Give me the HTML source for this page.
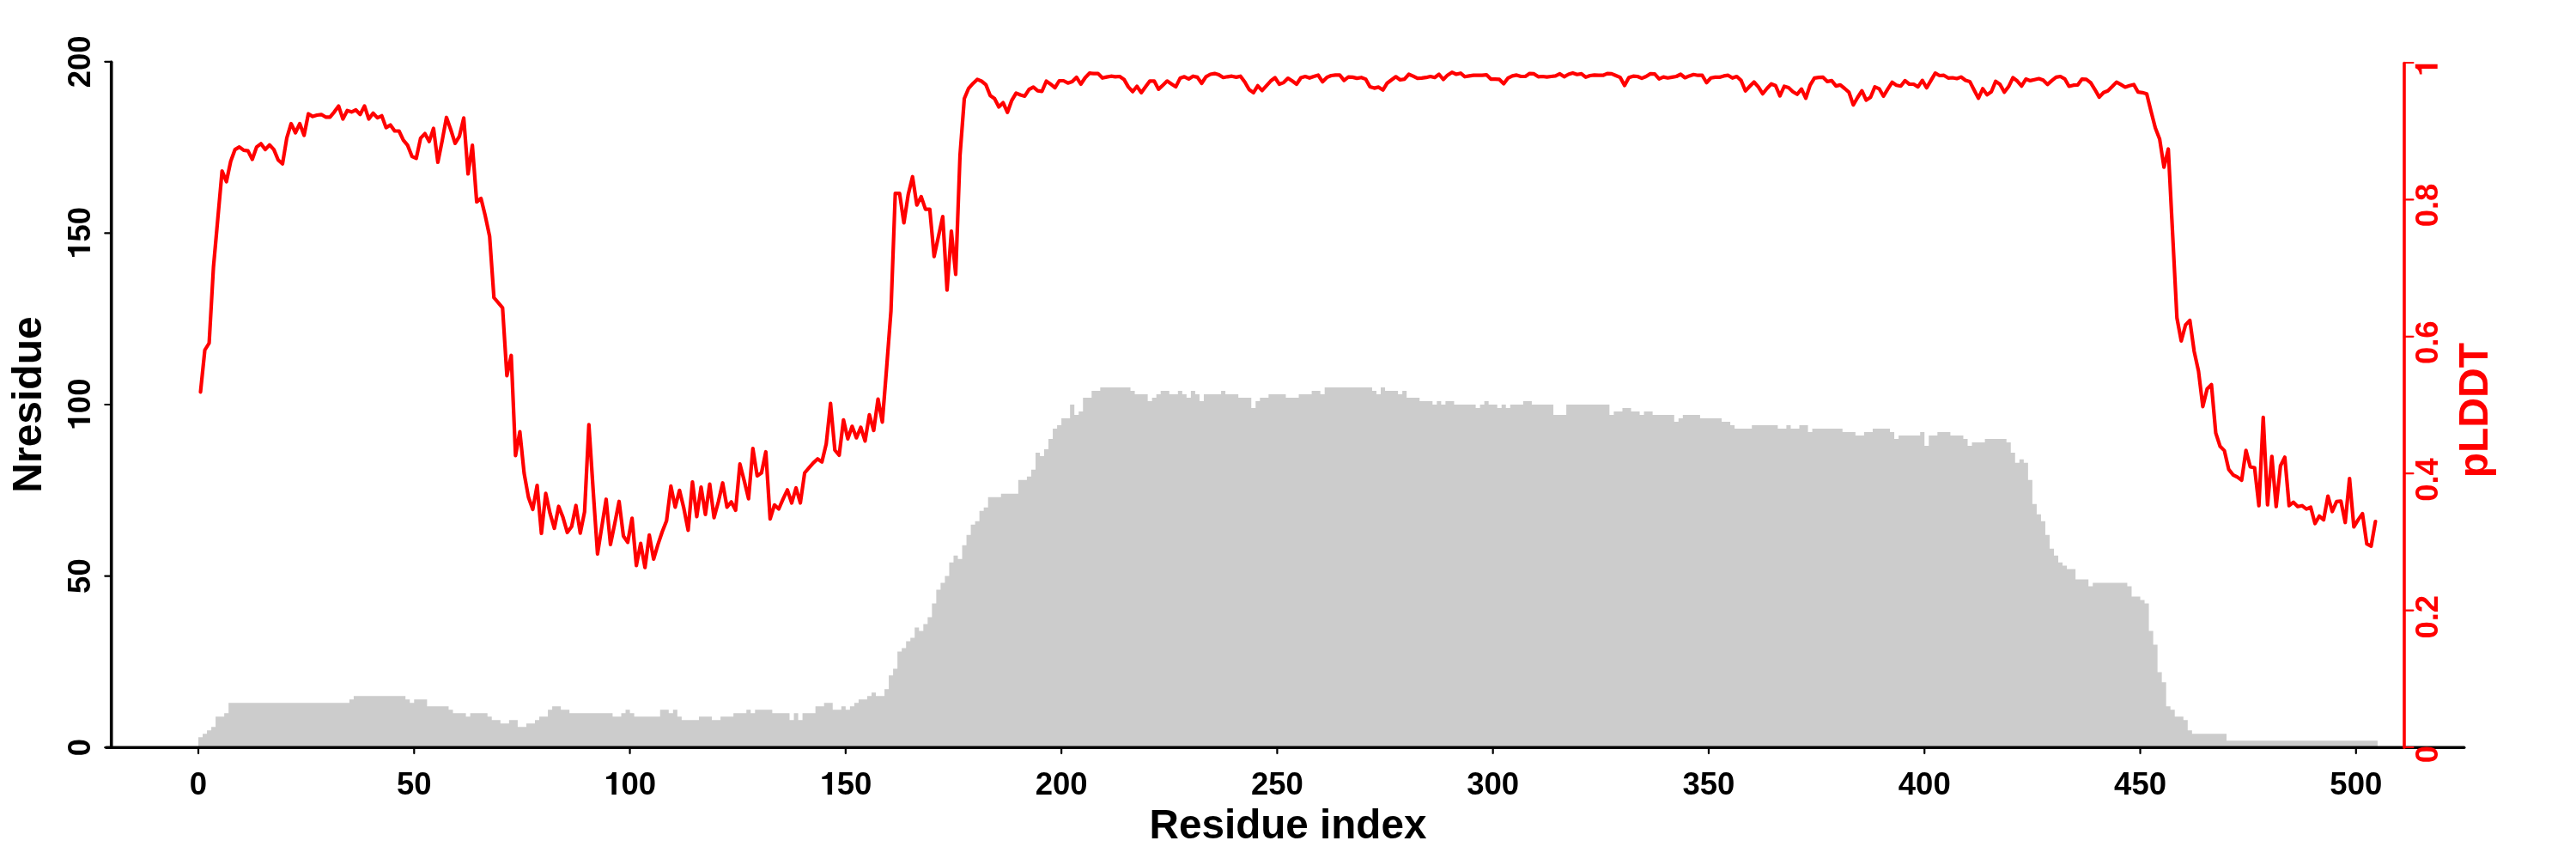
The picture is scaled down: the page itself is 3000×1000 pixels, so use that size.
<!DOCTYPE html>
<html><head><meta charset="utf-8"><style>
html,body{margin:0;padding:0;background:#fff;width:3000px;height:1000px;overflow:hidden}
svg{display:block;will-change:transform}
.t{font-family:"Liberation Sans",sans-serif;font-weight:bold;font-size:36.5px;text-anchor:middle;fill:#000}
.h{font-family:"Liberation Sans",sans-serif;font-weight:bold;font-size:48px;text-anchor:middle;fill:#000}
.r{fill:#ff0000}
</style></head><body>
<svg width="3000" height="1000" viewBox="0 0 3000 1000">
<rect width="3000" height="1000" fill="#fff"/>
<path d="M231 870.2 L231 858.22 L236.03 858.22 L236.03 854.23 L241.05 854.23 L241.05 850.24 L246.08 850.24 L246.08 846.25 L251.1 846.25 L251.1 834.27 L256.13 834.27 L256.13 834.27 L261.15 834.27 L261.15 830.28 L266.18 830.28 L266.18 818.3 L271.2 818.3 L271.2 818.3 L276.23 818.3 L276.23 818.3 L281.26 818.3 L281.26 818.3 L286.28 818.3 L286.28 818.3 L291.31 818.3 L291.31 818.3 L296.33 818.3 L296.33 818.3 L301.36 818.3 L301.36 818.3 L306.38 818.3 L306.38 818.3 L311.41 818.3 L311.41 818.3 L316.44 818.3 L316.44 818.3 L321.46 818.3 L321.46 818.3 L326.49 818.3 L326.49 818.3 L331.51 818.3 L331.51 818.3 L336.54 818.3 L336.54 818.3 L341.56 818.3 L341.56 818.3 L346.59 818.3 L346.59 818.3 L351.61 818.3 L351.61 818.3 L356.64 818.3 L356.64 818.3 L361.67 818.3 L361.67 818.3 L366.69 818.3 L366.69 818.3 L371.72 818.3 L371.72 818.3 L376.74 818.3 L376.74 818.3 L381.77 818.3 L381.77 818.3 L386.79 818.3 L386.79 818.3 L391.82 818.3 L391.82 818.3 L396.84 818.3 L396.84 818.3 L401.87 818.3 L401.87 818.3 L406.9 818.3 L406.9 814.31 L411.92 814.31 L411.92 810.32 L416.95 810.32 L416.95 810.32 L421.97 810.32 L421.97 810.32 L427 810.32 L427 810.32 L432.02 810.32 L432.02 810.32 L437.05 810.32 L437.05 810.32 L442.08 810.32 L442.08 810.32 L447.1 810.32 L447.1 810.32 L452.13 810.32 L452.13 810.32 L457.15 810.32 L457.15 810.32 L462.18 810.32 L462.18 810.32 L467.2 810.32 L467.2 810.32 L472.23 810.32 L472.23 814.31 L477.25 814.31 L477.25 818.3 L482.28 818.3 L482.28 814.31 L487.31 814.31 L487.31 814.31 L492.33 814.31 L492.33 814.31 L497.36 814.31 L497.36 822.3 L502.38 822.3 L502.38 822.3 L507.41 822.3 L507.41 822.3 L512.43 822.3 L512.43 822.3 L517.46 822.3 L517.46 822.3 L522.48 822.3 L522.48 826.29 L527.51 826.29 L527.51 830.28 L532.54 830.28 L532.54 830.28 L537.56 830.28 L537.56 830.28 L542.59 830.28 L542.59 834.27 L547.61 834.27 L547.61 830.28 L552.64 830.28 L552.64 830.28 L557.66 830.28 L557.66 830.28 L562.69 830.28 L562.69 830.28 L567.72 830.28 L567.72 834.27 L572.74 834.27 L572.74 838.26 L577.77 838.26 L577.77 838.26 L582.79 838.26 L582.79 842.26 L587.82 842.26 L587.82 842.26 L592.84 842.26 L592.84 838.26 L597.87 838.26 L597.87 838.26 L602.89 838.26 L602.89 846.25 L607.92 846.25 L607.92 846.25 L612.95 846.25 L612.95 842.26 L617.97 842.26 L617.97 842.26 L623 842.26 L623 838.26 L628.02 838.26 L628.02 834.27 L633.05 834.27 L633.05 834.27 L638.07 834.27 L638.07 826.29 L643.1 826.29 L643.1 822.3 L648.12 822.3 L648.12 822.3 L653.15 822.3 L653.15 826.29 L658.18 826.29 L658.18 826.29 L663.2 826.29 L663.2 830.28 L668.23 830.28 L668.23 830.28 L673.25 830.28 L673.25 830.28 L678.28 830.28 L678.28 830.28 L683.3 830.28 L683.3 830.28 L688.33 830.28 L688.33 830.28 L693.36 830.28 L693.36 830.28 L698.38 830.28 L698.38 830.28 L703.41 830.28 L703.41 830.28 L708.43 830.28 L708.43 830.28 L713.46 830.28 L713.46 834.27 L718.48 834.27 L718.48 834.27 L723.51 834.27 L723.51 830.28 L728.53 830.28 L728.53 826.29 L733.56 826.29 L733.56 830.28 L738.59 830.28 L738.59 834.27 L743.61 834.27 L743.61 834.27 L748.64 834.27 L748.64 834.27 L753.66 834.27 L753.66 834.27 L758.69 834.27 L758.69 834.27 L763.71 834.27 L763.71 834.27 L768.74 834.27 L768.74 826.29 L773.76 826.29 L773.76 826.29 L778.79 826.29 L778.79 830.28 L783.82 830.28 L783.82 826.29 L788.84 826.29 L788.84 834.27 L793.87 834.27 L793.87 838.26 L798.89 838.26 L798.89 838.26 L803.92 838.26 L803.92 838.26 L808.94 838.26 L808.94 838.26 L813.97 838.26 L813.97 834.27 L819 834.27 L819 834.27 L824.02 834.27 L824.02 834.27 L829.05 834.27 L829.05 838.26 L834.07 838.26 L834.07 838.26 L839.1 838.26 L839.1 834.27 L844.12 834.27 L844.12 834.27 L849.15 834.27 L849.15 834.27 L854.17 834.27 L854.17 830.28 L859.2 830.28 L859.2 830.28 L864.23 830.28 L864.23 830.28 L869.25 830.28 L869.25 826.29 L874.28 826.29 L874.28 830.28 L879.3 830.28 L879.3 826.29 L884.33 826.29 L884.33 826.29 L889.35 826.29 L889.35 826.29 L894.38 826.29 L894.38 826.29 L899.4 826.29 L899.4 830.28 L904.43 830.28 L904.43 830.28 L909.46 830.28 L909.46 830.28 L914.48 830.28 L914.48 830.28 L919.51 830.28 L919.51 838.26 L924.53 838.26 L924.53 830.28 L929.56 830.28 L929.56 838.26 L934.58 838.26 L934.58 830.28 L939.61 830.28 L939.61 830.28 L944.64 830.28 L944.64 830.28 L949.66 830.28 L949.66 822.3 L954.69 822.3 L954.69 822.3 L959.71 822.3 L959.71 818.3 L964.74 818.3 L964.74 818.3 L969.76 818.3 L969.76 826.29 L974.79 826.29 L974.79 826.29 L979.81 826.29 L979.81 822.3 L984.84 822.3 L984.84 826.29 L989.87 826.29 L989.87 822.3 L994.89 822.3 L994.89 818.3 L999.92 818.3 L999.92 814.31 L1004.94 814.31 L1004.94 814.31 L1009.97 814.31 L1009.97 810.32 L1014.99 810.32 L1014.99 806.33 L1020.02 806.33 L1020.02 810.32 L1025.04 810.32 L1025.04 810.32 L1030.07 810.32 L1030.07 802.34 L1035.1 802.34 L1035.1 786.37 L1040.12 786.37 L1040.12 778.38 L1045.15 778.38 L1045.15 758.42 L1050.17 758.42 L1050.17 754.43 L1055.2 754.43 L1055.2 746.45 L1060.22 746.45 L1060.22 742.46 L1065.25 742.46 L1065.25 730.48 L1070.28 730.48 L1070.28 734.47 L1075.3 734.47 L1075.3 726.49 L1080.33 726.49 L1080.33 718.5 L1085.35 718.5 L1085.35 702.54 L1090.38 702.54 L1090.38 686.57 L1095.4 686.57 L1095.4 678.58 L1100.43 678.58 L1100.43 670.6 L1105.45 670.6 L1105.45 654.63 L1110.48 654.63 L1110.48 646.65 L1115.51 646.65 L1115.51 650.64 L1120.53 650.64 L1120.53 634.67 L1125.56 634.67 L1125.56 622.7 L1130.58 622.7 L1130.58 610.72 L1135.61 610.72 L1135.61 606.73 L1140.63 606.73 L1140.63 594.75 L1145.66 594.75 L1145.66 590.76 L1150.68 590.76 L1150.68 578.78 L1155.71 578.78 L1155.71 578.78 L1160.74 578.78 L1160.74 578.78 L1165.76 578.78 L1165.76 574.79 L1170.79 574.79 L1170.79 574.79 L1175.81 574.79 L1175.81 574.79 L1180.84 574.79 L1180.84 574.79 L1185.86 574.79 L1185.86 558.82 L1190.89 558.82 L1190.89 558.82 L1195.92 558.82 L1195.92 554.83 L1200.94 554.83 L1200.94 546.85 L1205.97 546.85 L1205.97 526.89 L1210.99 526.89 L1210.99 530.88 L1216.02 530.88 L1216.02 522.9 L1221.04 522.9 L1221.04 510.92 L1226.07 510.92 L1226.07 498.94 L1231.09 498.94 L1231.09 494.95 L1236.12 494.95 L1236.12 486.97 L1241.15 486.97 L1241.15 486.97 L1246.17 486.97 L1246.17 471 L1251.2 471 L1251.2 482.98 L1256.22 482.98 L1256.22 478.98 L1261.25 478.98 L1261.25 463.02 L1266.27 463.02 L1266.27 463.02 L1271.3 463.02 L1271.3 455.03 L1276.32 455.03 L1276.32 455.03 L1281.35 455.03 L1281.35 451.04 L1286.38 451.04 L1286.38 451.04 L1291.4 451.04 L1291.4 451.04 L1296.43 451.04 L1296.43 451.04 L1301.45 451.04 L1301.45 451.04 L1306.48 451.04 L1306.48 451.04 L1311.5 451.04 L1311.5 451.04 L1316.53 451.04 L1316.53 455.03 L1321.56 455.03 L1321.56 459.02 L1326.58 459.02 L1326.58 459.02 L1331.61 459.02 L1331.61 459.02 L1336.63 459.02 L1336.63 467.01 L1341.66 467.01 L1341.66 463.02 L1346.68 463.02 L1346.68 459.02 L1351.71 459.02 L1351.71 455.03 L1356.73 455.03 L1356.73 455.03 L1361.76 455.03 L1361.76 459.02 L1366.79 459.02 L1366.79 459.02 L1371.81 459.02 L1371.81 455.03 L1376.84 455.03 L1376.84 459.02 L1381.86 459.02 L1381.86 463.02 L1386.89 463.02 L1386.89 455.03 L1391.91 455.03 L1391.91 459.02 L1396.94 459.02 L1396.94 467.01 L1401.96 467.01 L1401.96 459.02 L1406.99 459.02 L1406.99 459.02 L1412.02 459.02 L1412.02 459.02 L1417.04 459.02 L1417.04 459.02 L1422.07 459.02 L1422.07 455.03 L1427.09 455.03 L1427.09 459.02 L1432.12 459.02 L1432.12 459.02 L1437.14 459.02 L1437.14 459.02 L1442.17 459.02 L1442.17 463.02 L1447.2 463.02 L1447.2 463.02 L1452.22 463.02 L1452.22 463.02 L1457.25 463.02 L1457.25 474.99 L1462.27 474.99 L1462.27 467.01 L1467.3 467.01 L1467.3 463.02 L1472.32 463.02 L1472.32 463.02 L1477.35 463.02 L1477.35 459.02 L1482.37 459.02 L1482.37 459.02 L1487.4 459.02 L1487.4 459.02 L1492.43 459.02 L1492.43 459.02 L1497.45 459.02 L1497.45 463.02 L1502.48 463.02 L1502.48 463.02 L1507.5 463.02 L1507.5 463.02 L1512.53 463.02 L1512.53 459.02 L1517.55 459.02 L1517.55 459.02 L1522.58 459.02 L1522.58 459.02 L1527.6 459.02 L1527.6 455.03 L1532.63 455.03 L1532.63 455.03 L1537.66 455.03 L1537.66 459.02 L1542.68 459.02 L1542.68 451.04 L1547.71 451.04 L1547.71 451.04 L1552.73 451.04 L1552.73 451.04 L1557.76 451.04 L1557.76 451.04 L1562.78 451.04 L1562.78 451.04 L1567.81 451.04 L1567.81 451.04 L1572.84 451.04 L1572.84 451.04 L1577.86 451.04 L1577.86 451.04 L1582.89 451.04 L1582.89 451.04 L1587.91 451.04 L1587.91 451.04 L1592.94 451.04 L1592.94 451.04 L1597.96 451.04 L1597.96 455.03 L1602.99 455.03 L1602.99 459.02 L1608.01 459.02 L1608.01 451.04 L1613.04 451.04 L1613.04 455.03 L1618.07 455.03 L1618.07 455.03 L1623.09 455.03 L1623.09 455.03 L1628.12 455.03 L1628.12 459.02 L1633.14 459.02 L1633.14 455.03 L1638.17 455.03 L1638.17 463.02 L1643.19 463.02 L1643.19 463.02 L1648.22 463.02 L1648.22 463.02 L1653.24 463.02 L1653.24 467.01 L1658.27 467.01 L1658.27 467.01 L1663.3 467.01 L1663.3 467.01 L1668.32 467.01 L1668.32 471 L1673.35 471 L1673.35 467.01 L1678.37 467.01 L1678.37 471 L1683.4 471 L1683.4 467.01 L1688.42 467.01 L1688.42 467.01 L1693.45 467.01 L1693.45 471 L1698.48 471 L1698.48 471 L1703.5 471 L1703.5 471 L1708.53 471 L1708.53 471 L1713.55 471 L1713.55 471 L1718.58 471 L1718.58 474.99 L1723.6 474.99 L1723.6 471 L1728.63 471 L1728.63 467.01 L1733.65 467.01 L1733.65 471 L1738.68 471 L1738.68 471 L1743.71 471 L1743.71 474.99 L1748.73 474.99 L1748.73 471 L1753.76 471 L1753.76 474.99 L1758.78 474.99 L1758.78 471 L1763.81 471 L1763.81 471 L1768.83 471 L1768.83 471 L1773.86 471 L1773.86 467.01 L1778.88 467.01 L1778.88 467.01 L1783.91 467.01 L1783.91 471 L1788.94 471 L1788.94 471 L1793.96 471 L1793.96 471 L1798.99 471 L1798.99 471 L1804.01 471 L1804.01 471 L1809.04 471 L1809.04 482.98 L1814.06 482.98 L1814.06 482.98 L1819.09 482.98 L1819.09 482.98 L1824.12 482.98 L1824.12 471 L1829.14 471 L1829.14 471 L1834.17 471 L1834.17 471 L1839.19 471 L1839.19 471 L1844.22 471 L1844.22 471 L1849.24 471 L1849.24 471 L1854.27 471 L1854.27 471 L1859.29 471 L1859.29 471 L1864.32 471 L1864.32 471 L1869.35 471 L1869.35 471 L1874.37 471 L1874.37 482.98 L1879.4 482.98 L1879.4 478.98 L1884.42 478.98 L1884.42 478.98 L1889.45 478.98 L1889.45 474.99 L1894.47 474.99 L1894.47 474.99 L1899.5 474.99 L1899.5 478.98 L1904.52 478.98 L1904.52 478.98 L1909.55 478.98 L1909.55 482.98 L1914.58 482.98 L1914.58 478.98 L1919.6 478.98 L1919.6 478.98 L1924.63 478.98 L1924.63 482.98 L1929.65 482.98 L1929.65 482.98 L1934.68 482.98 L1934.68 482.98 L1939.7 482.98 L1939.7 482.98 L1944.73 482.98 L1944.73 482.98 L1949.76 482.98 L1949.76 490.96 L1954.78 490.96 L1954.78 486.97 L1959.81 486.97 L1959.81 482.98 L1964.83 482.98 L1964.83 482.98 L1969.86 482.98 L1969.86 482.98 L1974.88 482.98 L1974.88 482.98 L1979.91 482.98 L1979.91 486.97 L1984.93 486.97 L1984.93 486.97 L1989.96 486.97 L1989.96 486.97 L1994.99 486.97 L1994.99 486.97 L2000.01 486.97 L2000.01 486.97 L2005.04 486.97 L2005.04 490.96 L2010.06 490.96 L2010.06 490.96 L2015.09 490.96 L2015.09 494.95 L2020.11 494.95 L2020.11 498.94 L2025.14 498.94 L2025.14 498.94 L2030.16 498.94 L2030.16 498.94 L2035.19 498.94 L2035.19 498.94 L2040.22 498.94 L2040.22 494.95 L2045.24 494.95 L2045.24 494.95 L2050.27 494.95 L2050.27 494.95 L2055.29 494.95 L2055.29 494.95 L2060.32 494.95 L2060.32 494.95 L2065.34 494.95 L2065.34 494.95 L2070.37 494.95 L2070.37 498.94 L2075.4 498.94 L2075.4 498.94 L2080.42 498.94 L2080.42 494.95 L2085.45 494.95 L2085.45 498.94 L2090.47 498.94 L2090.47 498.94 L2095.5 498.94 L2095.5 494.95 L2100.52 494.95 L2100.52 494.95 L2105.55 494.95 L2105.55 502.94 L2110.57 502.94 L2110.57 498.94 L2115.6 498.94 L2115.6 498.94 L2120.63 498.94 L2120.63 498.94 L2125.65 498.94 L2125.65 498.94 L2130.68 498.94 L2130.68 498.94 L2135.7 498.94 L2135.7 498.94 L2140.73 498.94 L2140.73 498.94 L2145.75 498.94 L2145.75 502.94 L2150.78 502.94 L2150.78 502.94 L2155.8 502.94 L2155.8 502.94 L2160.83 502.94 L2160.83 506.93 L2165.86 506.93 L2165.86 506.93 L2170.88 506.93 L2170.88 502.94 L2175.91 502.94 L2175.91 502.94 L2180.93 502.94 L2180.93 498.94 L2185.96 498.94 L2185.96 498.94 L2190.98 498.94 L2190.98 498.94 L2196.01 498.94 L2196.01 498.94 L2201.04 498.94 L2201.04 502.94 L2206.06 502.94 L2206.06 510.92 L2211.09 510.92 L2211.09 506.93 L2216.11 506.93 L2216.11 506.93 L2221.14 506.93 L2221.14 506.93 L2226.16 506.93 L2226.16 506.93 L2231.19 506.93 L2231.19 506.93 L2236.21 506.93 L2236.21 502.94 L2241.24 502.94 L2241.24 518.9 L2246.27 518.9 L2246.27 506.93 L2251.29 506.93 L2251.29 506.93 L2256.32 506.93 L2256.32 502.94 L2261.34 502.94 L2261.34 502.94 L2266.37 502.94 L2266.37 502.94 L2271.39 502.94 L2271.39 506.93 L2276.42 506.93 L2276.42 506.93 L2281.44 506.93 L2281.44 506.93 L2286.47 506.93 L2286.47 510.92 L2291.5 510.92 L2291.5 518.9 L2296.52 518.9 L2296.52 514.91 L2301.55 514.91 L2301.55 514.91 L2306.57 514.91 L2306.57 514.91 L2311.6 514.91 L2311.6 510.92 L2316.62 510.92 L2316.62 510.92 L2321.65 510.92 L2321.65 510.92 L2326.68 510.92 L2326.68 510.92 L2331.7 510.92 L2331.7 510.92 L2336.73 510.92 L2336.73 514.91 L2341.75 514.91 L2341.75 526.89 L2346.78 526.89 L2346.78 538.86 L2351.8 538.86 L2351.8 534.87 L2356.83 534.87 L2356.83 538.86 L2361.85 538.86 L2361.85 558.82 L2366.88 558.82 L2366.88 586.77 L2371.91 586.77 L2371.91 598.74 L2376.93 598.74 L2376.93 606.73 L2381.96 606.73 L2381.96 622.7 L2386.98 622.7 L2386.98 638.66 L2392.01 638.66 L2392.01 646.65 L2397.03 646.65 L2397.03 654.63 L2402.06 654.63 L2402.06 658.62 L2407.08 658.62 L2407.08 662.62 L2412.11 662.62 L2412.11 662.62 L2417.14 662.62 L2417.14 674.59 L2422.16 674.59 L2422.16 674.59 L2427.19 674.59 L2427.19 674.59 L2432.21 674.59 L2432.21 682.58 L2437.24 682.58 L2437.24 678.58 L2442.26 678.58 L2442.26 678.58 L2447.29 678.58 L2447.29 678.58 L2452.32 678.58 L2452.32 678.58 L2457.34 678.58 L2457.34 678.58 L2462.37 678.58 L2462.37 678.58 L2467.39 678.58 L2467.39 678.58 L2472.42 678.58 L2472.42 678.58 L2477.44 678.58 L2477.44 682.58 L2482.47 682.58 L2482.47 694.55 L2487.49 694.55 L2487.49 694.55 L2492.52 694.55 L2492.52 698.54 L2497.55 698.54 L2497.55 702.54 L2502.57 702.54 L2502.57 734.47 L2507.6 734.47 L2507.6 750.44 L2512.62 750.44 L2512.62 782.38 L2517.65 782.38 L2517.65 794.35 L2522.67 794.35 L2522.67 822.3 L2527.7 822.3 L2527.7 826.29 L2532.72 826.29 L2532.72 834.27 L2537.75 834.27 L2537.75 834.27 L2542.78 834.27 L2542.78 838.26 L2547.8 838.26 L2547.8 850.24 L2552.83 850.24 L2552.83 854.23 L2557.85 854.23 L2557.85 854.23 L2562.88 854.23 L2562.88 854.23 L2567.9 854.23 L2567.9 854.23 L2572.93 854.23 L2572.93 854.23 L2577.96 854.23 L2577.96 854.23 L2582.98 854.23 L2582.98 854.23 L2588.01 854.23 L2588.01 854.23 L2593.03 854.23 L2593.03 862.22 L2598.06 862.22 L2598.06 862.22 L2603.08 862.22 L2603.08 862.22 L2608.11 862.22 L2608.11 862.22 L2613.13 862.22 L2613.13 862.22 L2618.16 862.22 L2618.16 862.22 L2623.19 862.22 L2623.19 862.22 L2628.21 862.22 L2628.21 862.22 L2633.24 862.22 L2633.24 862.22 L2638.26 862.22 L2638.26 862.22 L2643.29 862.22 L2643.29 862.22 L2648.31 862.22 L2648.31 862.22 L2653.34 862.22 L2653.34 862.22 L2658.36 862.22 L2658.36 862.22 L2663.39 862.22 L2663.39 862.22 L2668.42 862.22 L2668.42 862.22 L2673.44 862.22 L2673.44 862.22 L2678.47 862.22 L2678.47 862.22 L2683.49 862.22 L2683.49 862.22 L2688.52 862.22 L2688.52 862.22 L2693.54 862.22 L2693.54 862.22 L2698.57 862.22 L2698.57 862.22 L2703.6 862.22 L2703.6 862.22 L2708.62 862.22 L2708.62 862.22 L2713.65 862.22 L2713.65 862.22 L2718.67 862.22 L2718.67 862.22 L2723.7 862.22 L2723.7 862.22 L2728.72 862.22 L2728.72 862.22 L2733.75 862.22 L2733.75 862.22 L2738.77 862.22 L2738.77 862.22 L2743.8 862.22 L2743.8 862.22 L2748.83 862.22 L2748.83 862.22 L2753.85 862.22 L2753.85 862.22 L2758.88 862.22 L2758.88 862.22 L2763.9 862.22 L2763.9 862.22 L2768.93 862.22 L2768.93 870.2 Z" fill="#cccccc" stroke="none"/>
<line x1="123.8" y1="870.2" x2="2869.7" y2="870.2" stroke="#000" stroke-width="3.6" stroke-linecap="round"/>
<line x1="129.7" y1="72.2" x2="129.7" y2="870.2" stroke="#000" stroke-width="3.6" stroke-linecap="round"/>
<line x1="122.3" y1="870.2" x2="130" y2="870.2" stroke="#000" stroke-width="2.2" stroke-linecap="round"/>
<line x1="122.3" y1="670.6" x2="130" y2="670.6" stroke="#000" stroke-width="2.2" stroke-linecap="round"/>
<line x1="122.3" y1="471" x2="130" y2="471" stroke="#000" stroke-width="2.2" stroke-linecap="round"/>
<line x1="122.3" y1="271.4" x2="130" y2="271.4" stroke="#000" stroke-width="2.2" stroke-linecap="round"/>
<line x1="122.3" y1="71.8" x2="130" y2="71.8" stroke="#000" stroke-width="2.2" stroke-linecap="round"/>
<line x1="231" y1="870" x2="231" y2="876.9" stroke="#000" stroke-width="2.2" stroke-linecap="round"/>
<line x1="482.28" y1="870" x2="482.28" y2="876.9" stroke="#000" stroke-width="2.2" stroke-linecap="round"/>
<line x1="733.56" y1="870" x2="733.56" y2="876.9" stroke="#000" stroke-width="2.2" stroke-linecap="round"/>
<line x1="984.84" y1="870" x2="984.84" y2="876.9" stroke="#000" stroke-width="2.2" stroke-linecap="round"/>
<line x1="1236.12" y1="870" x2="1236.12" y2="876.9" stroke="#000" stroke-width="2.2" stroke-linecap="round"/>
<line x1="1487.4" y1="870" x2="1487.4" y2="876.9" stroke="#000" stroke-width="2.2" stroke-linecap="round"/>
<line x1="1738.68" y1="870" x2="1738.68" y2="876.9" stroke="#000" stroke-width="2.2" stroke-linecap="round"/>
<line x1="1989.96" y1="870" x2="1989.96" y2="876.9" stroke="#000" stroke-width="2.2" stroke-linecap="round"/>
<line x1="2241.24" y1="870" x2="2241.24" y2="876.9" stroke="#000" stroke-width="2.2" stroke-linecap="round"/>
<line x1="2492.52" y1="870" x2="2492.52" y2="876.9" stroke="#000" stroke-width="2.2" stroke-linecap="round"/>
<line x1="2743.8" y1="870" x2="2743.8" y2="876.9" stroke="#000" stroke-width="2.2" stroke-linecap="round"/>
<path d="M233.51 456.4 L238.54 407.5 L243.56 399.5 L248.59 311 L253.62 255 L258.64 199 L263.67 211.5 L268.69 187.7 L273.72 174.1 L278.74 171.1 L283.77 174.9 L288.79 175.6 L293.82 185.5 L298.85 171.1 L303.87 167.3 L308.9 174.1 L313.92 168.8 L318.95 174.1 L323.97 186.2 L329 190.8 L334.02 160.5 L339.05 143.9 L344.08 154.5 L349.1 143.9 L354.13 157.5 L359.15 132.5 L364.18 135.6 L369.2 134 L374.23 133.3 L379.26 136.3 L384.28 136.3 L389.31 130.3 L394.33 123.4 L399.36 138.6 L404.38 128.7 L409.41 130.3 L414.43 128 L419.46 133.3 L424.49 123.4 L429.51 138.6 L434.54 131.8 L439.56 137.1 L444.59 134.8 L449.61 148.6 L454.64 145.5 L459.66 152.5 L464.69 152.5 L469.72 163.1 L474.74 169.2 L479.77 182.1 L484.79 184.3 L489.82 160.9 L494.84 155.6 L499.87 164.7 L504.9 149.5 L509.92 188.9 L514.95 163.9 L519.97 136.7 L525 151 L530.02 166.9 L535.05 158.6 L540.07 137.4 L545.1 202.5 L550.13 169.2 L555.15 235 L560.18 231 L565.2 251.6 L570.23 275.3 L575.25 346.5 L580.28 352.4 L585.3 358.3 L590.33 437.4 L595.36 413.7 L600.38 530.3 L605.41 502.5 L610.43 551.2 L615.46 579 L620.48 593 L625.51 565 L630.54 621 L635.56 574.4 L640.59 597.7 L645.61 615.1 L650.64 589.5 L655.66 602.3 L660.69 619.8 L665.71 613 L670.74 588.5 L675.77 620.7 L680.79 595.9 L685.82 494.4 L690.84 571.5 L695.87 644.8 L700.89 613 L705.92 581.2 L710.94 633.8 L715.97 609.4 L721 583.7 L726.02 624 L731.05 631.4 L736.07 603.3 L741.1 658.3 L746.12 632.6 L751.15 660.7 L756.18 622.8 L761.2 650.9 L766.23 633.8 L771.25 619 L776.28 606.3 L781.3 565.9 L786.33 590.4 L791.35 570.8 L796.38 591.6 L801.41 617.3 L806.43 561 L811.46 601.4 L816.48 567.1 L821.51 598.9 L826.53 563.5 L831.56 602.6 L836.58 584.3 L841.61 562.2 L846.64 590.4 L851.66 584.3 L856.69 594 L861.71 540.2 L866.74 559.8 L871.76 580.6 L876.79 522.2 L881.82 554 L886.84 550.5 L891.87 526 L896.89 604.1 L901.92 587.8 L906.94 592.5 L911.97 580.8 L916.99 570.3 L922.02 585.5 L927.05 568 L932.07 585.5 L937.1 550.5 L942.12 544.7 L947.15 538.9 L952.17 534.2 L957.2 537.7 L962.22 516.8 L967.25 469.7 L972.28 524 L977.3 530 L982.33 488.8 L987.35 510.9 L992.38 496.3 L997.4 509.7 L1002.43 497.5 L1007.46 513.4 L1012.48 482.8 L1017.51 501.1 L1022.53 464.5 L1027.56 491.4 L1032.58 428 L1037.61 362 L1042.63 225.2 L1047.66 225.2 L1052.69 259.5 L1057.71 226.5 L1062.74 205.7 L1067.76 238.7 L1072.79 228.9 L1077.81 243.6 L1082.84 243.6 L1087.86 298.6 L1092.89 275.4 L1097.92 252.1 L1102.94 337.7 L1107.97 269.2 L1112.99 319.4 L1118.02 181 L1123.04 114.7 L1128.07 102.8 L1133.1 97.2 L1138.12 92.4 L1143.15 94.5 L1148.17 98.6 L1153.2 111.2 L1158.22 114.7 L1163.25 124.5 L1168.27 119.6 L1173.3 130.8 L1178.33 116.8 L1183.35 108.4 L1188.38 110.5 L1193.4 111.9 L1198.43 104.2 L1203.45 101.4 L1208.48 105.6 L1213.5 106.3 L1218.53 94.5 L1223.56 97.9 L1228.58 102.1 L1233.61 94 L1238.63 94 L1243.66 96.7 L1248.68 94.9 L1253.71 89.9 L1258.74 98 L1263.76 90.5 L1268.79 85.2 L1273.81 85.6 L1278.84 85.6 L1283.86 90.8 L1288.89 89.6 L1293.91 88.7 L1298.94 89.3 L1303.97 89 L1308.99 92.4 L1314.02 101.1 L1319.04 106.7 L1324.07 100.5 L1329.09 107.9 L1334.12 101.1 L1339.14 94.3 L1344.17 94.3 L1349.2 103.9 L1354.22 99.2 L1359.25 94.3 L1364.27 97.7 L1369.3 101.1 L1374.32 91.1 L1379.35 89.3 L1384.38 92 L1389.4 88.7 L1394.43 89.9 L1399.45 97 L1404.48 89.3 L1409.5 86.5 L1414.53 85.6 L1419.55 87.1 L1424.58 90.2 L1429.61 89.3 L1434.63 88.7 L1439.66 89.9 L1444.68 88.7 L1449.71 95.5 L1454.73 104.2 L1459.76 107.9 L1464.78 99.8 L1469.81 105.4 L1474.84 99.8 L1479.86 94.3 L1484.89 90.5 L1489.91 98 L1494.94 96.1 L1499.96 91.1 L1504.99 94.3 L1510.02 98 L1515.04 90.5 L1520.07 89 L1525.09 90.8 L1530.12 89 L1535.14 87.5 L1540.17 95.2 L1545.19 90.2 L1550.22 88 L1555.25 87.4 L1560.27 87.4 L1565.3 93.6 L1570.32 89.6 L1575.35 89.9 L1580.37 91.1 L1585.4 90.2 L1590.42 92.1 L1595.45 101.1 L1600.48 102.6 L1605.5 101.4 L1610.53 104.8 L1615.55 96.7 L1620.58 93 L1625.6 89.3 L1630.63 93 L1635.66 92.1 L1640.68 86.5 L1645.71 88.7 L1650.73 91.1 L1655.76 90.8 L1660.78 90.2 L1665.81 89 L1670.83 90.2 L1675.86 86.5 L1680.89 92.5 L1685.91 87.4 L1690.94 84.2 L1695.96 86.5 L1700.99 85.2 L1706.01 89.3 L1711.04 88.4 L1716.06 87.7 L1721.09 87.7 L1726.12 87.7 L1731.14 87.1 L1736.17 92.1 L1741.19 92.1 L1746.22 92.4 L1751.24 97.4 L1756.27 90.8 L1761.3 88.4 L1766.32 87.4 L1771.35 89 L1776.37 89 L1781.4 85.6 L1786.42 85.9 L1791.45 89.3 L1796.47 89 L1801.5 89.6 L1806.53 89 L1811.55 88.4 L1816.58 85.9 L1821.6 89.3 L1826.63 86.5 L1831.65 84.9 L1836.68 86.7 L1841.7 85.9 L1846.73 89.9 L1851.76 88 L1856.78 87.4 L1861.81 87.7 L1866.83 87.7 L1871.86 85.6 L1876.88 85.9 L1881.91 88 L1886.94 90.2 L1891.96 99.5 L1896.99 90.2 L1902.01 88.7 L1907.04 89 L1912.06 91.1 L1917.09 89 L1922.11 85.9 L1927.14 86.2 L1932.17 91.8 L1937.19 89.6 L1942.22 90.8 L1947.24 89.9 L1952.27 89 L1957.29 86.5 L1962.32 90.5 L1967.34 88.4 L1972.37 86.8 L1977.4 87.7 L1982.42 87.7 L1987.45 96.2 L1992.47 90.8 L1997.5 89.9 L2002.52 89.9 L2007.55 88.4 L2012.58 87.7 L2017.6 90.8 L2022.63 89 L2027.65 93.6 L2032.68 105.7 L2037.7 100.5 L2042.73 95.5 L2047.75 101.1 L2052.78 109.2 L2057.81 103 L2062.83 97.7 L2067.86 99.8 L2072.88 111.6 L2077.91 100.5 L2082.93 102 L2087.96 106.7 L2092.98 109.8 L2098.01 103.6 L2103.04 114.4 L2108.06 99.2 L2113.09 90.8 L2118.11 90.2 L2123.14 89.9 L2128.16 94.9 L2133.19 93.9 L2138.22 100.1 L2143.24 98.9 L2148.27 103 L2153.29 107.3 L2158.32 122.2 L2163.34 113.5 L2168.37 105.7 L2173.39 116.6 L2178.42 113.2 L2183.45 101.1 L2188.47 103.3 L2193.5 112 L2198.52 103.6 L2203.55 95.8 L2208.57 99.2 L2213.6 100.2 L2218.62 93.9 L2223.65 98 L2228.68 98 L2233.7 101.1 L2238.73 93.6 L2243.75 102.3 L2248.78 93.6 L2253.8 85.2 L2258.83 88 L2263.86 87.7 L2268.88 90.8 L2273.91 90.5 L2278.93 91.5 L2283.96 89.6 L2288.98 93.5 L2294.01 94.9 L2299.03 104.8 L2304.06 114.4 L2309.09 103.3 L2314.11 110.4 L2319.14 106.7 L2324.16 94.6 L2329.19 98.3 L2334.21 107.3 L2339.24 100.8 L2344.26 90.5 L2349.29 94.3 L2354.32 100.2 L2359.34 92.1 L2364.37 93.9 L2369.39 92.7 L2374.42 91.5 L2379.44 93.3 L2384.47 98.3 L2389.5 93.9 L2394.52 89.9 L2399.55 89 L2404.57 91.8 L2409.6 100.5 L2414.62 99.2 L2419.65 98.9 L2424.67 92.1 L2429.7 92.4 L2434.73 96.2 L2439.75 104.3 L2444.78 113.1 L2449.8 107.8 L2454.83 105.7 L2459.85 100.8 L2464.88 95.6 L2469.9 98.4 L2474.93 101.5 L2479.96 99.8 L2484.98 98.4 L2490.01 107.2 L2495.03 107.8 L2500.06 109.2 L2505.08 129.4 L2510.11 149 L2515.14 162 L2520.16 194.7 L2525.19 173.5 L2530.21 272 L2535.24 370 L2540.26 396.9 L2545.29 378.2 L2550.31 373 L2555.34 409.1 L2560.37 432 L2565.39 473.3 L2570.42 452.8 L2575.44 447.7 L2580.47 504.1 L2585.49 519.5 L2590.52 524.6 L2595.54 546.4 L2600.57 552.8 L2605.6 555.4 L2610.62 559 L2615.65 524.4 L2620.67 543.5 L2625.7 544.5 L2630.72 588.7 L2635.75 485.8 L2640.78 587.7 L2645.8 531.3 L2650.83 589.7 L2655.85 542.2 L2660.88 532.3 L2665.9 588.7 L2670.93 584.7 L2675.95 589.7 L2680.98 588.7 L2686.01 592.6 L2691.03 590.5 L2696.06 609.5 L2701.08 600.8 L2706.11 605.1 L2711.13 577.5 L2716.16 595.5 L2721.18 583.9 L2726.21 583.3 L2731.24 608.3 L2736.26 557 L2741.29 613.4 L2746.31 605.1 L2751.34 598 L2756.36 633.2 L2761.39 635.8 L2766.42 607" fill="none" stroke="#ff0000" stroke-width="4.2" stroke-linejoin="round" stroke-linecap="round"/>
<line x1="2800" y1="73.5" x2="2800" y2="870.2" stroke="#ff0000" stroke-width="3.6" stroke-linecap="round"/>
<line x1="2800" y1="870" x2="2810.4" y2="870" stroke="#ff0000" stroke-width="2.2" stroke-linecap="round"/>
<line x1="2800" y1="710.6" x2="2810.4" y2="710.6" stroke="#ff0000" stroke-width="2.2" stroke-linecap="round"/>
<line x1="2800" y1="551.2" x2="2810.4" y2="551.2" stroke="#ff0000" stroke-width="2.2" stroke-linecap="round"/>
<line x1="2800" y1="391.8" x2="2810.4" y2="391.8" stroke="#ff0000" stroke-width="2.2" stroke-linecap="round"/>
<line x1="2800" y1="232.4" x2="2810.4" y2="232.4" stroke="#ff0000" stroke-width="2.2" stroke-linecap="round"/>
<line x1="2800" y1="73" x2="2810.4" y2="73" stroke="#ff0000" stroke-width="2.2" stroke-linecap="round"/>
<g transform="translate(104.9 870.2) rotate(-90)"><text x="-10.15" y="0" class="t" style="text-anchor:start">0</text></g>
<g transform="translate(104.9 670.6) rotate(-90)"><text x="-20.29" y="0" class="t" style="text-anchor:start">50</text></g>
<g transform="translate(104.9 471) rotate(-90)"><path d="M0.4017 0 L0.4017 0.7097 L0.2745 0.7097 C0.2544 0.6227 0.154 0.5758 0.0803 0.5691 L0.0803 0.4954 L0.2544 0.5021 L0.2544 0 Z" transform="translate(-30.44 0) scale(36.5 -36.5)" fill="#000"/><text x="-10.15" y="0" class="t" style="text-anchor:start">00</text></g>
<g transform="translate(104.9 271.4) rotate(-90)"><path d="M0.4017 0 L0.4017 0.7097 L0.2745 0.7097 C0.2544 0.6227 0.154 0.5758 0.0803 0.5691 L0.0803 0.4954 L0.2544 0.5021 L0.2544 0 Z" transform="translate(-30.44 0) scale(36.5 -36.5)" fill="#000"/><text x="-10.15" y="0" class="t" style="text-anchor:start">50</text></g>
<g transform="translate(104.9 71.8) rotate(-90)"><text x="-30.44" y="0" class="t" style="text-anchor:start">200</text></g>
<g transform="translate(231 925)"><text x="-10.15" y="0" class="t" style="text-anchor:start">0</text></g>
<g transform="translate(482.28 925)"><text x="-20.29" y="0" class="t" style="text-anchor:start">50</text></g>
<g transform="translate(733.56 925)"><path d="M0.4017 0 L0.4017 0.7097 L0.2745 0.7097 C0.2544 0.6227 0.154 0.5758 0.0803 0.5691 L0.0803 0.4954 L0.2544 0.5021 L0.2544 0 Z" transform="translate(-30.44 0) scale(36.5 -36.5)" fill="#000"/><text x="-10.15" y="0" class="t" style="text-anchor:start">00</text></g>
<g transform="translate(984.84 925)"><path d="M0.4017 0 L0.4017 0.7097 L0.2745 0.7097 C0.2544 0.6227 0.154 0.5758 0.0803 0.5691 L0.0803 0.4954 L0.2544 0.5021 L0.2544 0 Z" transform="translate(-30.44 0) scale(36.5 -36.5)" fill="#000"/><text x="-10.15" y="0" class="t" style="text-anchor:start">50</text></g>
<g transform="translate(1236.12 925)"><text x="-30.44" y="0" class="t" style="text-anchor:start">200</text></g>
<g transform="translate(1487.4 925)"><text x="-30.44" y="0" class="t" style="text-anchor:start">250</text></g>
<g transform="translate(1738.68 925)"><text x="-30.44" y="0" class="t" style="text-anchor:start">300</text></g>
<g transform="translate(1989.96 925)"><text x="-30.44" y="0" class="t" style="text-anchor:start">350</text></g>
<g transform="translate(2241.24 925)"><text x="-30.44" y="0" class="t" style="text-anchor:start">400</text></g>
<g transform="translate(2492.52 925)"><text x="-30.44" y="0" class="t" style="text-anchor:start">450</text></g>
<g transform="translate(2743.8 925)"><text x="-30.44" y="0" class="t" style="text-anchor:start">500</text></g>
<g transform="translate(2838.7 878) rotate(-90)"><text x="-10.15" y="0" class="t r" style="text-anchor:start">0</text></g>
<g transform="translate(2838.7 718.24) rotate(-90)"><text x="-25.37" y="0" class="t r" style="text-anchor:start">0.2</text></g>
<g transform="translate(2838.7 558.48) rotate(-90)"><text x="-25.37" y="0" class="t r" style="text-anchor:start">0.4</text></g>
<g transform="translate(2838.7 398.72) rotate(-90)"><text x="-25.37" y="0" class="t r" style="text-anchor:start">0.6</text></g>
<g transform="translate(2838.7 238.96) rotate(-90)"><text x="-25.37" y="0" class="t r" style="text-anchor:start">0.8</text></g>
<g transform="translate(2838.7 79.2) rotate(-90)"><path d="M0.4017 0 L0.4017 0.7097 L0.2745 0.7097 C0.2544 0.6227 0.154 0.5758 0.0803 0.5691 L0.0803 0.4954 L0.2544 0.5021 L0.2544 0 Z" transform="translate(-10.15 0) scale(36.5 -36.5)" fill="#ff0000"/></g>
<text transform="translate(48.1 471) rotate(-90)" class="h">Nresidue</text>
<text transform="translate(2896.5 477.7) rotate(-90)" class="h r">pLDDT</text>
<text transform="translate(1500 976) scale(0.992 1)" class="h">Residue index</text>
</svg>
</body></html>
